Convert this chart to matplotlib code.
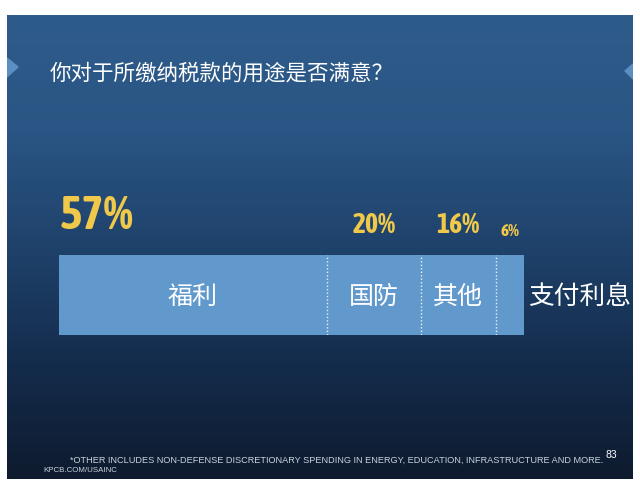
import matplotlib
matplotlib.use("Agg")
import matplotlib.pyplot as plt
from matplotlib import font_manager
from matplotlib.colors import LinearSegmentedColormap
from matplotlib.patches import Polygon
import numpy as np

# data
categories = ['福利', '国防', '其他', '支付利息']
shares = [57, 20, 16, 6]
share_labels = ['57%', '20%', '16%', '6%']
label_sizes = [34, 20, 20, 12.5]

title = '你对于所缴纳税款的用途是否满意？'
footnote = '*OTHER INCLUDES NON-DEFENSE DISCRETIONARY SPENDING IN ENERGY, EDUCATION, INFRASTRUCTURE AND MORE.'
source = 'KPCB.COM/USAINC'
page = '83'

cjk = ['Noto Sans CJK SC', 'DejaVu Sans']
latin = ['Liberation Sans', 'DejaVu Sans']


def _weight(w):
    if isinstance(w, (int, float)):
        return w
    return font_manager.weight_dict.get(w, 400)


# look for a narrow / condensed bold face for the big percentages
narrow_name = None
narrow_stretch = 'normal'
best = None
for f in font_manager.fontManager.ttflist:
    n = f.name
    is_narrow = ('Narrow' in n or 'Condensed' in n or 'Oswald' in n
                 or f.stretch in ('condensed', 'semi-condensed', 'extra-condensed'))
    if not is_narrow:
        continue
    score = _weight(f.weight)
    if best is None or score > best[0]:
        best = (score, n, f.stretch)
if best is not None:
    narrow_name = best[1]
    if best[2] in ('condensed', 'semi-condensed', 'extra-condensed'):
        narrow_stretch = best[2]
narrow = [narrow_name or 'DejaVu Sans', 'DejaVu Sans']

W, H = 640, 494
fig = plt.figure(figsize=(W / 100, H / 100), dpi=100, facecolor='white')

def fx(px):
    return px / W

def fy(px):
    return 1 - px / H

# slide background with vertical gradient, data coords = pixels
bg = fig.add_axes([fx(7), fy(479), fx(626), 464 / H])
cmap = LinearSegmentedColormap.from_list('slide', ['#2e5c8a', '#2a5584', '#1f426b', '#142c4c', '#0e1b2f'])
grad = np.linspace(0, 1, 256).reshape(-1, 1)
bg.imshow(grad, aspect='auto', cmap=cmap, extent=[7, 633, 479, 15])
bg.set_xlim(7, 633)
bg.set_ylim(479, 15)
bg.axis('off')

# little side markers
bg.add_patch(Polygon([[7, 58], [18, 67], [7, 77]], closed=True, color='#5b8fc4'))
bg.add_patch(Polygon([[633, 64], [625, 71], [633, 79]], closed=True, color='#5b8fc4'))

fig.text(fx(50), fy(74), title, color='white', fontsize=15.5, family=cjk, va='center', ha='left')

# stacked bar
ax = fig.add_axes([fx(59), fy(335), fx(465), 80 / H])
ax.set_xlim(0, sum(shares))
ax.set_ylim(0, 1)
ax.axis('off')
ax.patch.set_alpha(0)

left = 0
for i, (cat, val) in enumerate(zip(categories, shares)):
    ax.barh(0.5, val, left=left, height=1, color='#6299cc', edgecolor='none')
    if i > 0:
        ax.plot([left, left], [0, 1], color='white', lw=1, ls=(0, (1, 1.5)), alpha=0.85)
    mid = left + val / 2
    if i == 0:
        ax.text(left + 0.2, 1.2, share_labels[i], color='#f0c84a', fontsize=label_sizes[i],
                family=narrow, fontstretch=narrow_stretch, weight='bold',
                ha='left', va='bottom', clip_on=False)
    else:
        ax.text(mid, 1.2, share_labels[i], color='#f0c84a', fontsize=label_sizes[i],
                family=narrow, fontstretch=narrow_stretch, weight='bold',
                ha='center', va='bottom', clip_on=False)
    if i < len(categories) - 1:
        ax.text(mid, 0.48, cat, color='white', fontsize=18, family=cjk, ha='center', va='center')
    else:
        ax.text(left + val + 0.8, 0.48, cat, color='white', fontsize=18.5, family=cjk,
                ha='left', va='center', clip_on=False)
    left += val

fig.text(fx(603), fy(460), footnote, color='#c9d3de', fontsize=6.6, family=latin,
         ha='right', va='center')
fig.text(fx(605), fy(455), page, color='white', fontsize=7.5, family=latin,
         ha='left', va='center')
fig.text(fx(43), fy(471), source, color='#c9d3de', fontsize=5.7, family=latin,
         ha='left', va='center')

fig.savefig('out.png', dpi=100, facecolor='white')
